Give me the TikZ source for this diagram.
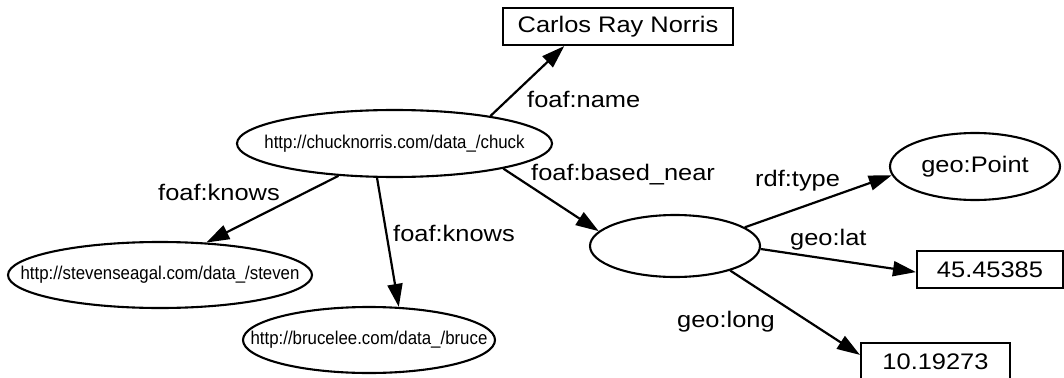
\documentclass[tikz,border=0pt]{standalone}
\usepackage{fontspec}
\setmainfont{Liberation Sans}[FakeStretch=1.13]
\newfontfamily\urifont{Liberation Sans}[FakeStretch=0.91]
\usetikzlibrary{arrows.meta,shapes.geometric}
\begin{document}
\begin{tikzpicture}[x=1pt,y=-1pt,
  res/.style={draw,ellipse,line width=2.1pt,inner ysep=0pt,inner xsep=-80pt,
    font=\urifont\fontsize{18.5}{20}\selectfont},
  lit/.style={draw,rectangle,line width=2.1pt,inner sep=0pt,minimum height=37pt,
    font=\fontsize{22.5}{24}\selectfont},
  lbl/.style={anchor=base west,inner sep=0pt,font=\fontsize{22.5}{24}\selectfont},
  link/.style={line width=2.2pt,-{Triangle[length=23pt,width=15pt]}}]
\useasboundingbox (0,0) rectangle (1064,377);

% resources
\node[res,minimum width=315pt,minimum height=67pt] (chuck) at (394.5,143.5) {http://chucknorris.com/data\_/chuck};
\node[res,minimum width=304pt,minimum height=66pt] (steven) at (160,275) {http://stevenseagal.com/data\_/steven};
\node[res,minimum width=252pt,minimum height=66pt] (bruce) at (369,340) {http://brucelee.com/data\_/bruce};
\node[res,minimum width=170pt,minimum height=62pt] (place) at (675,246) {};
\node[res,minimum width=170pt,minimum height=67pt,font=\fontsize{22.5}{24}\selectfont] (point) at (975,166.5) {geo:Point};

% literals
\node[lit,minimum width=230pt] (name) at (618,26.5) {Carlos Ray Norris};
\node[lit,minimum width=146pt] (lat) at (990,269.5) {45.45385};
\node[lit,minimum width=149pt] (long) at (935.5,361.5) {10.19273};

% properties
\draw[link] (chuck.16) -- (name.200);
\draw[link] (chuck.210) -- (steven.35);
\draw[link] (chuck.243) -- (bruce.48);
\draw[link] (chuck.347) -- (place.169);
\draw[link] (place.15) -- (point.186);
\draw[link] (place.358) -- (lat.182);
\draw[link] (place.336) -- (long.175);

% property labels
\node[lbl] (lname) at (527,107) {foaf:name};
\node[lbl] (lnear) at (531,180) {foaf:based\_near};
\node[lbl] (lknows1) at (158,200.7) {foaf:knows};
\node[lbl] (lknows2) at (393,241.7) {foaf:knows};
\node[lbl] (ltype) at (755,186.7) {rdf:type};
\node[lbl] (llat) at (790,245) {geo:lat};
\node[lbl] (llong) at (677,327) {geo:long};
\end{tikzpicture}
\end{document}
